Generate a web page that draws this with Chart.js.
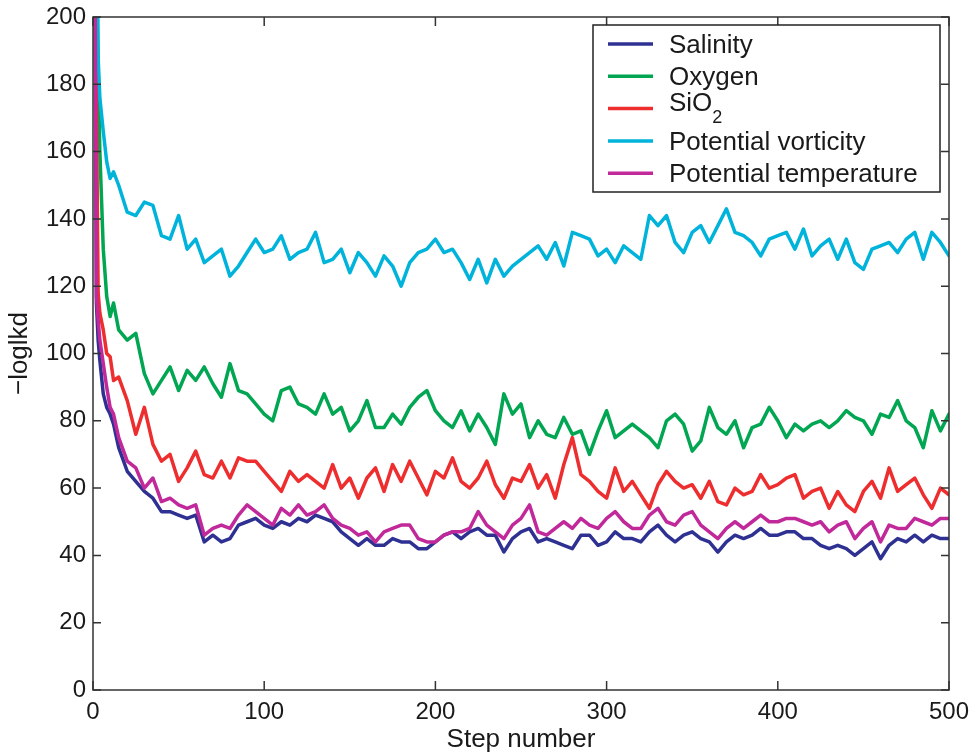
<!doctype html>
<html lang="en">
  <head>
    <meta charset="utf-8">
    <title>-loglkd by step number</title>
    <style>
      * { margin: 0; padding: 0; }
      body { background: #fff; }
      canvas { display: block; }
    </style>
  </head>
  <body>
    <canvas id="myChart" width="976" height="755"></canvas>
    <script src="https://cdn.jsdelivr.net/npm/chart.js/dist/chart.umd.min.js"></script>
    <script>
    // step numbers the values were read at
    const steps = [
      1, 2, 3, 4, 6, 8, 10, 12, 15,
      20, 25, 30, 35, 40, 45, 50, 55, 60, 65,
      70, 75, 80, 85, 90, 95, 100, 105, 110, 115,
      120, 125, 130, 135, 140, 145, 150, 155, 160, 165,
      170, 175, 180, 185, 190, 195, 200, 205, 210, 215,
      220, 225, 230, 235, 240, 245, 250, 255, 260, 265,
      270, 275, 280, 285, 290, 295, 300, 305, 310, 315,
      320, 325, 330, 335, 340, 345, 350, 355, 360, 365,
      370, 375, 380, 385, 390, 395, 400, 405, 410, 415,
      420, 425, 430, 435, 440, 445, 450, 455, 460, 465,
      470, 475, 480, 485, 490, 495, 500
    ];

    const salinity = [
      230, 115, 104, 98, 88, 84, 82, 79, 72,
      65, 62, 59, 57, 53, 53, 52, 51, 52, 44,
      46, 44, 45, 49, 50, 51, 49, 48, 50, 49,
      51, 50, 52, 51, 50, 47, 45, 43, 45, 43,
      43, 45, 44, 44, 42, 42, 44, 46, 47, 45,
      47, 48, 46, 46, 41, 45, 47, 48, 44, 45,
      44, 43, 42, 46, 46, 43, 44, 47, 45, 45,
      44, 47, 49, 46, 44, 46, 47, 45, 44, 41,
      44, 46, 45, 46, 48, 46, 46, 47, 47, 45,
      45, 43, 42, 43, 42, 40, 42, 44, 39, 43,
      45, 44, 46, 44, 46, 45, 45
    ];

    const oxygen = [
      280, 220, 185, 160, 131, 117, 111, 115, 107,
      104, 106, 94, 88, 92, 96, 89, 95, 92, 96,
      91, 87, 97, 89, 88, 85, 82, 80, 89, 90,
      85, 84, 82, 88, 82, 84, 77, 80, 86, 78,
      78, 82, 79, 84, 87, 89, 83, 80, 78, 83,
      77, 82, 78, 73, 88, 82, 85, 75, 80, 76,
      75, 81, 76, 77, 70, 77, 83, 75, 77, 79,
      77, 75, 72, 80, 82, 79, 71, 74, 84, 78,
      76, 80, 72, 78, 79, 84, 80, 75, 79, 77,
      79, 80, 78, 80, 83, 81, 80, 76, 82, 81,
      86, 80, 78, 72, 83, 77, 82
    ];

    const sio2 = [
      260, 175, 118, 112, 107, 100, 99, 92, 93,
      86, 76, 84, 73, 68, 70, 62, 66, 71, 64,
      63, 68, 63, 69, 68, 68, 65, 62, 59, 65,
      62, 64, 62, 60, 67, 60, 63, 57, 63, 66,
      59, 67, 62, 68, 63, 58, 65, 63, 69, 62,
      60, 63, 68, 61, 57, 63, 62, 67, 60, 64,
      57, 67, 75, 64, 62, 59, 57, 66, 59, 62,
      58, 54, 61, 65, 62, 60, 61, 57, 62, 56,
      55, 60, 58, 59, 64, 60, 61, 63, 64, 57,
      59, 60, 54, 59, 55, 53, 59, 62, 57, 66,
      59, 61, 63, 58, 54, 60, 58
    ];

    const vorticity = [
      320, 240, 188, 176, 166, 157, 152, 154, 150,
      142, 141, 145, 144, 135, 134, 141, 131, 134, 127,
      129, 131, 123, 126, 130, 134, 130, 131, 135, 128,
      130, 131, 136, 127, 128, 131, 124, 130, 127, 123,
      129, 126, 120, 127, 130, 131, 134, 130, 131, 127,
      122, 128, 121, 128, 123, 126, 128, 130, 132, 128,
      133, 126, 136, 135, 134, 129, 131, 127, 132, 130,
      128, 141, 138, 141, 133, 130, 136, 138, 133, 138,
      143, 136, 135, 133, 129, 134, 135, 136, 131, 137,
      129, 132, 134, 128, 134, 127, 125, 131, 132, 133,
      130, 134, 136, 128, 136, 133, 129
    ];

    const temperature = [
      240, 117, 110, 104, 97, 90, 84, 82, 75,
      68, 66, 60, 63, 56, 57, 55, 54, 55, 46,
      48, 49, 48, 52, 55, 53, 51, 49, 54, 52,
      55, 52, 53, 55, 51, 49, 48, 46, 47, 44,
      47, 48, 49, 49, 45, 44, 44, 46, 47, 47,
      48, 53, 49, 47, 45, 49, 51, 55, 47, 46,
      48, 50, 48, 51, 49, 48, 51, 53, 50, 48,
      48, 52, 54, 50, 49, 52, 53, 49, 47, 45,
      48, 50, 48, 50, 52, 50, 50, 51, 51, 50,
      49, 50, 47, 49, 50, 45, 48, 50, 44, 49,
      48, 48, 51, 50, 49, 51, 51
    ];

    const xTicks = [0, 100, 200, 300, 400, 500];
    const yTicks = [0, 20, 40, 60, 80, 100, 120, 140, 160, 180, 200];

    const seriesNames = ['Salinity', 'Oxygen', 'SiO2', 'Potential vorticity', 'Potential temperature'];
    const seriesColors = ['#2e3192', '#00a651', '#ee2d2e', '#00b3db', '#c1289a'];
    const seriesValues = [salinity, oxygen, sio2, vorticity, temperature];

    const fontFamily = '"Liberation Sans", Arial, Helvetica, sans-serif';
    const ink = '#1a1a1a';

    // datasets reversed so the last series is painted on top (like the original)
    const datasets = seriesNames.map((name, i) => ({
      label: name,
      data: steps.map((s, j) => ({ x: s, y: seriesValues[i][j] })),
      borderColor: seriesColors[i],
      backgroundColor: seriesColors[i],
      borderWidth: 3.5,
      borderJoinStyle: 'round',
      borderCapStyle: 'round',
      pointRadius: 0,
      fill: false,
      tension: 0,
      clip: 0
    })).reverse();

    // box around the plot with inward ticks on all four sides
    const axesBox = {
      id: 'axesBox',
      afterDatasetsDraw(chart) {
        const { ctx, chartArea: a, scales } = chart;
        ctx.save();
        ctx.strokeStyle = '#333';
        ctx.lineWidth = 1.5;
        ctx.strokeRect(a.left, a.top, a.right - a.left, a.bottom - a.top);
        ctx.beginPath();
        xTicks.forEach(v => {
          const px = scales.x.getPixelForValue(v);
          ctx.moveTo(px, a.bottom); ctx.lineTo(px, a.bottom - 9);
          ctx.moveTo(px, a.top); ctx.lineTo(px, a.top + 9);
        });
        yTicks.forEach(v => {
          const py = scales.y.getPixelForValue(v);
          ctx.moveTo(a.left, py); ctx.lineTo(a.left + 8, py);
          ctx.moveTo(a.right, py); ctx.lineTo(a.right - 8, py);
        });
        ctx.stroke();
        ctx.restore();
      }
    };

    // legend box in the upper right corner of the plot
    const boxLegend = {
      id: 'boxLegend',
      afterDraw(chart) {
        const { ctx, chartArea: a } = chart;
        const w = 347, h = 167;
        const left = a.right - 9 - w, top = a.top + 8;
        ctx.save();
        ctx.fillStyle = '#fff';
        ctx.fillRect(left, top, w, h);
        ctx.strokeStyle = '#222';
        ctx.lineWidth = 1.5;
        ctx.strokeRect(left, top, w, h);
        seriesNames.forEach((name, i) => {
          const cy = top + 19 + i * 32.3;
          ctx.strokeStyle = seriesColors[i];
          ctx.lineWidth = 3.5;
          ctx.beginPath();
          ctx.moveTo(left + 15, cy);
          ctx.lineTo(left + 60, cy);
          ctx.stroke();
          ctx.fillStyle = ink;
          ctx.textAlign = 'left';
          ctx.textBaseline = 'alphabetic';
          ctx.font = '26px ' + fontFamily;
          if (name === 'SiO2') {
            ctx.fillText('SiO', left + 76, cy + 2);
            const wMain = ctx.measureText('SiO').width;
            ctx.font = '18px ' + fontFamily;
            ctx.fillText('2', left + 76 + wMain, cy + 14);
          } else {
            ctx.fillText(name, left + 76, cy + 9);
          }
        });
        ctx.restore();
      }
    };

    const config = {
      type: 'line',
      data: { datasets },
      options: {
        responsive: false,
        animation: false,
        devicePixelRatio: 1,
        layout: { padding: { top: 17, right: 27, left: 0, bottom: 0 } },
        plugins: {
          legend: { display: false },
          tooltip: { enabled: false }
        },
        scales: {
          x: {
            type: 'linear',
            min: 0,
            max: 500,
            afterBuildTicks: scale => { scale.ticks = xTicks.map(v => ({ value: v })); },
            afterFit: scale => { scale.height = 65; scale.paddingLeft = 0; scale.paddingRight = 0; },
            grid: { display: false, drawTicks: false },
            border: { display: false },
            ticks: { color: ink, padding: 8, maxRotation: 0, font: { family: fontFamily, size: 24 } },
            title: {
              display: true,
              text: 'Step number',
              color: ink,
              padding: { top: 0, bottom: 0 },
              font: { family: fontFamily, size: 26 }
            }
          },
          y: {
            min: 0,
            max: 200,
            afterBuildTicks: scale => { scale.ticks = yTicks.map(v => ({ value: v })); },
            afterFit: scale => { scale.width = 93; scale.paddingTop = 0; scale.paddingBottom = 0; },
            grid: { display: false, drawTicks: false },
            border: { display: false },
            ticks: { color: ink, padding: 7, font: { family: fontFamily, size: 24 } },
            title: {
              display: true,
              text: '\u2212loglkd',
              color: ink,
              padding: { top: 4, bottom: 0 },
              font: { family: fontFamily, size: 26 }
            }
          }
        }
      },
      plugins: [axesBox, boxLegend]
    };

    const myChart = new Chart(document.getElementById('myChart'), config);
    </script>
  </body>
</html>
